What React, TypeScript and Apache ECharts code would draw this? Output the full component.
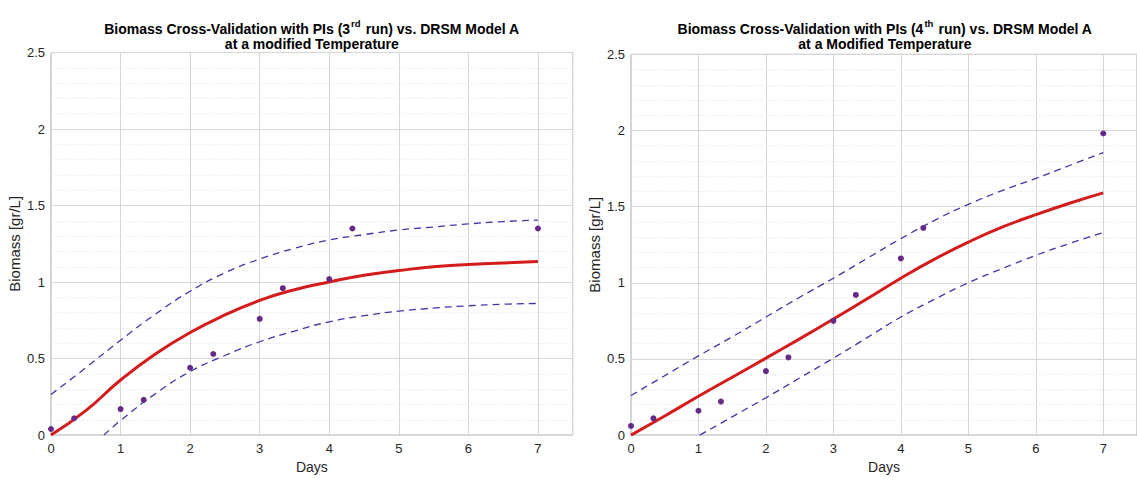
import React, { useEffect, useRef } from "react";
import * as echarts from "echarts";

// ---- data ----
const sampleDays = [0, 0.333, 1, 1.333, 2, 2.333, 3, 3.333, 4, 4.333, 7];
const run3Biomass = [0.04, 0.11, 0.17, 0.23, 0.44, 0.53, 0.76, 0.96, 1.02, 1.35, 1.35];
const run4Biomass = [0.06, 0.11, 0.16, 0.22, 0.42, 0.51, 0.75, 0.92, 1.16, 1.36, 1.98];

const modelDays = [0, 0.5, 1, 1.5, 2, 2.5, 3, 3.5, 4, 4.5, 5, 5.5, 6, 6.5, 7];
const model3 = [0, 0.16, 0.36, 0.53, 0.67, 0.785, 0.88, 0.95, 1.0, 1.045, 1.075, 1.1, 1.115, 1.125, 1.135];
const upper3 = [0.265, 0.44, 0.62, 0.79, 0.94, 1.06, 1.15, 1.22, 1.275, 1.31, 1.34, 1.36, 1.38, 1.395, 1.405];
const lower3Days = [0.76, 1, 1.5, 2, 2.5, 3, 3.5, 4, 4.5, 5, 5.5, 6, 6.5, 7];
const lower3 = [0, 0.095, 0.27, 0.415, 0.52, 0.61, 0.68, 0.74, 0.78, 0.81, 0.83, 0.845, 0.855, 0.86];

const model4 = [0, 0.125, 0.255, 0.38, 0.505, 0.632, 0.762, 0.895, 1.03, 1.155, 1.267, 1.365, 1.447, 1.522, 1.59];
const upper4 = [0.26, 0.39, 0.52, 0.645, 0.775, 0.905, 1.03, 1.16, 1.29, 1.41, 1.515, 1.605, 1.685, 1.77, 1.855];
const lower4Days = [1.02, 1.5, 2, 2.5, 3, 3.5, 4, 4.5, 5, 5.5, 6, 6.5, 7];
const lower4 = [0, 0.12, 0.245, 0.375, 0.505, 0.64, 0.775, 0.892, 1.0, 1.093, 1.18, 1.258, 1.33];

const titleLine1a = ["Biomass Cross-Validation with PIs (3", "rd", " run) vs. DRSM Model A"];
const titleLine1b = ["Biomass Cross-Validation with PIs (4", "th", " run) vs. DRSM Model A"];
const titleLine2a = "at a modified Temperature";
const titleLine2b = "at a Modified Temperature";
const xName = "Days";
const yName = "Biomass [gr/L]";

const FONT = "'Liberation Sans', Arial, Helvetica, sans-serif";
const TXT = "#262626";
const RED = "#d41c1c";
const BLUE = "#3d37a8";
const PURPLE = "#652a86";

const zip = (xs: number[], ys: number[]) => xs.map((x, i) => [x, ys[i]]);

const grids = [
  { left: 51, top: 52.5, width: 521.7, height: 388.8 },
  { left: 631, top: 54.3, width: 517.8, height: 387.2 },
];

export default function App() {
  const ref = useRef<HTMLDivElement>(null);
  useEffect(() => {
    if (!ref.current) return;
    const chart = echarts.init(ref.current, null, { renderer: "svg" });

    const xAxes: any[] = [];
    const yAxes: any[] = [];
    grids.forEach((_, gi) => {
      xAxes.push({
        type: "value",
        gridIndex: gi,
        min: 0,
        max: 7.5,
        interval: 1,
        name: xName,
        nameLocation: "middle",
        nameGap: 23,
        nameTextStyle: { fontFamily: FONT, fontSize: 14, color: TXT },
        axisLine: { show: false },
        axisTick: { show: false },
        axisLabel: { fontFamily: FONT, fontSize: 13, color: TXT, margin: 7, showMaxLabel: false },
        splitLine: { show: true, lineStyle: { color: "#d6d6d6", width: 1 } },
      });
      // minor dotted grid along x (0.2 steps)
      xAxes.push({
        type: "value",
        gridIndex: gi,
        min: 0,
        max: 7.5,
        interval: 0.2,
        axisLine: { show: false },
        axisTick: { show: false },
        axisLabel: { show: false },
        splitLine: { show: true, lineStyle: { color: "#e2e2e2", width: 1, type: [1, 2] } },
        z: -1,
      });
      yAxes.push({
        type: "value",
        gridIndex: gi,
        min: 0,
        max: 2.5,
        interval: 0.5,
        name: yName,
        nameLocation: "middle",
        nameGap: 29,
        nameTextStyle: { fontFamily: FONT, fontSize: 15, color: TXT },
        axisLine: { show: false },
        axisTick: { show: false },
        axisLabel: { fontFamily: FONT, fontSize: 13, color: TXT, margin: 6 },
        splitLine: { show: true, lineStyle: { color: "#d6d6d6", width: 1 } },
        minorTick: { show: false, splitNumber: 5 },
        minorSplitLine: { show: true, lineStyle: { color: "#e2e2e2", width: 1, type: [1, 2] } },
      });
    });

    const gridOpts = grids.map((g) => ({
      ...g,
      show: true,
      borderColor: "#a6a6a6",
      borderWidth: 1,
      backgroundColor: "#ffffff",
    }));

    const mk = (gi: number, pts: number[], model: number[], upper: number[], lDays: number[], lower: number[]) => {
      const xi = gi * 2;
      const yi = gi;
      const dash = {
        type: "line",
        xAxisIndex: xi,
        yAxisIndex: yi,
        showSymbol: false,
        smooth: 0.5,
        lineStyle: { color: BLUE, width: 1.3, type: [7, 5] },
        z: 3,
      };
      return [
        { ...dash, data: zip(modelDays, upper) },
        { ...dash, data: zip(lDays, lower) },
        {
          type: "line",
          xAxisIndex: xi,
          yAxisIndex: yi,
          showSymbol: false,
          smooth: 0.5,
          lineStyle: { color: RED, width: 3 },
          data: zip(modelDays, model),
          z: 4,
        },
        {
          type: "scatter",
          xAxisIndex: xi,
          yAxisIndex: yi,
          symbol: "circle",
          symbolSize: 6,
          itemStyle: { color: PURPLE, opacity: 1 },
          data: zip(sampleDays, pts),
          z: 5,
        },
      ];
    };

    const titleEl = (cx: number, parts: string[], line2: string) => [
      {
        type: "text",
        x: cx,
        y: 27,
        style: {
          text: `{b|${parts[0]}}{s|${parts[1]}}{b|${parts[2]}}`,
          align: "center",
          verticalAlign: "middle",
          rich: {
            b: { fontFamily: FONT, fontSize: 14, fontWeight: "bold", fill: "#000", lineHeight: 18, verticalAlign: "bottom" },
            s: { fontFamily: FONT, fontSize: 9.5, fontWeight: "bold", fill: "#000", lineHeight: 18, verticalAlign: "top", padding: [0, 1, 0, 1] },
          },
        },
      },
      {
        type: "text",
        x: cx,
        y: 44,
        style: {
          text: line2,
          align: "center",
          verticalAlign: "middle",
          font: `bold 14px ${FONT}`,
          fill: "#000",
        },
      },
    ];

    chart.setOption({
      animation: false,
      backgroundColor: "#ffffff",
      grid: gridOpts,
      xAxis: xAxes,
      yAxis: yAxes,
      series: [
        ...mk(0, run3Biomass, model3, upper3, lower3Days, lower3),
        ...mk(1, run4Biomass, model4, upper4, lower4Days, lower4),
      ],
      graphic: [
        ...titleEl(51 + 521.7 / 2, titleLine1a, titleLine2a),
        ...titleEl(631 + 517.8 / 2 - 5, titleLine1b, titleLine2b),
      ],
    });
    return () => chart.dispose();
  }, []);
  return (
    <div
      ref={ref}
      style={{ position: "fixed", left: 0, top: 0, width: 1137, height: 479, background: "#fff" }}
    />
  );
}
